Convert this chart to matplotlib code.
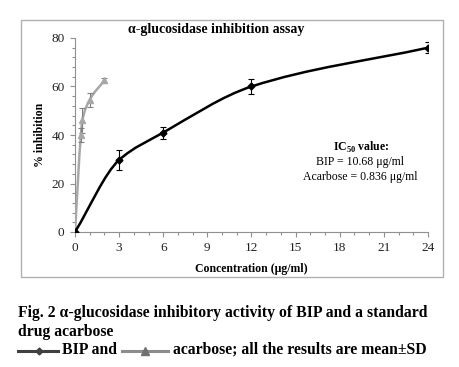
import matplotlib
matplotlib.use("Agg")
import matplotlib.pyplot as plt
from matplotlib.path import Path
from matplotlib.patches import PathPatch, Rectangle
from matplotlib.lines import Line2D
from matplotlib.ticker import MultipleLocator
import numpy as np

plt.rcParams['font.family'] = ['Liberation Serif', 'DejaVu Serif']
plt.rcParams['mathtext.fontset'] = 'custom'
plt.rcParams['mathtext.rm'] = 'Liberation Serif'
plt.rcParams['mathtext.bf'] = 'Liberation Serif:bold'

# Data
bip_x = [0, 3, 6, 12, 24]
bip_y = [0, 29.7, 41, 60, 76]
bip_err = [0, 4.0, 2.5, 3.2, 2.2]

acar_x = [0, 0.4, 0.5, 1, 2]
acar_y = [0, 40, 46, 54.5, 62.5]
acar_err = [0, 3.0, 5.0, 3.0, 1.0]

xticks = [0, 3, 6, 9, 12, 15, 18, 21, 24]
yticks = [0, 20, 40, 60, 80]

W, H = 460, 367
fig = plt.figure(figsize=(W / 100, H / 100), dpi=100)

def fx(px):
    return px / W

def fy(py):
    return 1 - py / H

ax = fig.add_axes([fx(75), fy(232), fx(428) - fx(75), fy(38) - fy(232)])

def smooth_slopes(x, y):
    x = np.asarray(x, float); y = np.asarray(y, float)
    h = np.diff(x); d = np.diff(y) / h
    n = len(x)
    m = np.zeros(n)
    for k in range(1, n - 1):
        if d[k - 1] * d[k] <= 0:
            m[k] = 0
        else:
            w1 = 2 * h[k] + h[k - 1]
            w2 = h[k] + 2 * h[k - 1]
            m[k] = (w1 + w2) / (w1 / d[k - 1] + w2 / d[k])
    m[0] = d[0]
    m[-1] = d[-1]
    return m

def smooth_path(x, y):
    x = np.asarray(x, float); y = np.asarray(y, float)
    m = smooth_slopes(x, y)
    verts = [(x[0], y[0])]
    codes = [Path.MOVETO]
    for i in range(len(x) - 1):
        h = x[i + 1] - x[i]
        verts += [(x[i] + h / 3, y[i] + m[i] * h / 3),
                  (x[i + 1] - h / 3, y[i + 1] - m[i + 1] * h / 3),
                  (x[i + 1], y[i + 1])]
        codes += [Path.CURVE4] * 3
    return Path(verts, codes)

gray = '#a8a8a8'
ax.add_patch(PathPatch(smooth_path(acar_x, acar_y), fill=False, edgecolor=gray, lw=1.8, zorder=3))
ax.errorbar(acar_x, acar_y, yerr=acar_err, fmt='^', color=gray, ms=4.5,
            ecolor='#808080', elinewidth=0.8, capsize=2.5, capthick=0.8, zorder=4)

ax.add_patch(PathPatch(smooth_path(bip_x, bip_y), fill=False, edgecolor='black', lw=1.8, zorder=5))
ax.errorbar(bip_x, bip_y, yerr=bip_err, fmt='D', color='black', ms=3.5,
            ecolor='black', elinewidth=0.8, capsize=2.5, capthick=0.8, zorder=6)

ax.set_xlim(0, 24)
ax.set_ylim(0, 80)
ax.set_xticks(xticks)
ax.set_yticks(yticks)
ax.xaxis.set_minor_locator(MultipleLocator(1))
ax.yaxis.set_minor_locator(MultipleLocator(4))
for s in ['top', 'right']:
    ax.spines[s].set_visible(False)
for s in ['left', 'bottom']:
    ax.spines[s].set_color('#909090')
    ax.spines[s].set_linewidth(0.8)
ax.tick_params(which='both', direction='out', color='#909090', width=0.8)
ax.tick_params(which='major', length=3.5, labelsize=9.5, pad=4, labelcolor='#222222')
ax.tick_params(which='minor', length=2)
ax.patch.set_visible(False)

ax.set_xlabel('Concentration (μg/ml)', fontsize=8.5, fontweight='bold', labelpad=6)
ax.set_ylabel('% inhibition', fontsize=8.5, fontweight='bold', labelpad=4)

fig.text(fx(216), fy(29), 'α-glucosidase inhibition assay', fontsize=10,
         fontweight='bold', ha='center', va='center')

fig.text(fx(361), fy(147), r'IC$_{\mathbf{50}}$ value:', fontsize=8.5, fontweight='bold',
         ha='center', va='center')
fig.text(fx(360), fy(162), 'BIP = 10.68 μg/ml', fontsize=8.5, ha='center', va='center')
fig.text(fx(360), fy(177), 'Acarbose = 0.836 μg/ml', fontsize=8.5, ha='center', va='center')

# border
fig.patches.append(Rectangle((fx(21), fy(277)), fx(443) - fx(21), fy(20) - fy(277),
                             transform=fig.transFigure, fill=False,
                             edgecolor='#b0b0b0', lw=1.0))

cap_fs = 11.3
fig.text(fx(18), fy(313), 'Fig. 2 α-glucosidase inhibitory activity of BIP and a standard',
         fontsize=cap_fs, fontweight='bold', ha='left', va='center')
fig.text(fx(18), fy(332), 'drug acarbose', fontsize=cap_fs, fontweight='bold',
         ha='left', va='center')

yl = fy(351)
fig.add_artist(Line2D([fx(18), fx(58)], [yl, yl], transform=fig.transFigure,
                      color='#404040', lw=2.2))
fig.add_artist(Line2D([fx(39)], [yl], transform=fig.transFigure, color='#404040',
                      marker='D', ms=3.5, lw=0))
fig.text(fx(62), fy(350), 'BIP and', fontsize=cap_fs, fontweight='bold', ha='left', va='center')
fig.add_artist(Line2D([fx(122), fx(168)], [yl, yl], transform=fig.transFigure,
                      color='#8c8c8c', lw=2.2))
fig.add_artist(Line2D([fx(145)], [yl], transform=fig.transFigure, color='#707070',
                      marker='^', ms=6, lw=0))
fig.text(fx(173), fy(350), 'acarbose; all the results are mean±SD', fontsize=cap_fs,
         fontweight='bold', ha='left', va='center')

fig.savefig('out.png', dpi=100, facecolor='white')
